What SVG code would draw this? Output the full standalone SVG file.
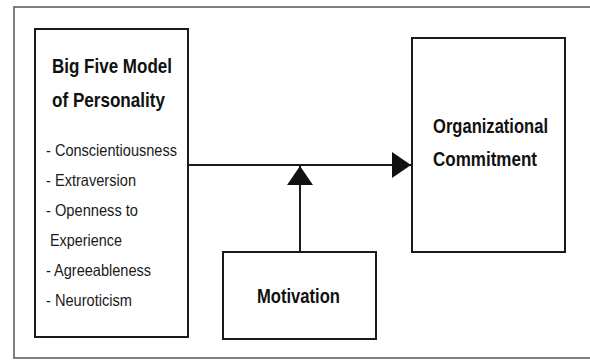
<svg xmlns="http://www.w3.org/2000/svg" width="590" height="360" viewBox="0 0 590 360">
  <style>
    .box { fill: #ffffff; stroke: #1a1a1a; stroke-width: 2; }
    .title { font-family: "Liberation Sans", Arial, sans-serif; font-weight: bold; font-size: 21px; fill: #111; }
    .item { font-family: "Liberation Sans", Arial, sans-serif; font-size: 16.5px; fill: #1a1a1a; }
    .conn { fill: none; stroke: #1a1a1a; stroke-width: 2; }
    .frame { fill: none; stroke: #555; stroke-width: 1.5; }
  </style>
  <defs>
    <marker id="arrow" markerUnits="userSpaceOnUse" markerWidth="19" markerHeight="26" refX="19" refY="13" orient="auto" viewBox="0 0 19 26">
      <path d="M0,0 L19,13 L0,26 z" fill="#111"/>
    </marker>
  </defs>
  <rect width="590" height="360" fill="#ffffff"/>
  <path class="frame" d="M590,7 H14 V358 H590"/>

  <g id="connectors">
    <line class="conn" x1="188" y1="165" x2="411" y2="165" marker-end="url(#arrow)"/>
    <line class="conn" x1="300" y1="252" x2="300" y2="166" marker-end="url(#arrow)"/>
  </g>

  <g id="big-five">
    <rect class="box" x="35" y="29" width="153" height="308"/>
    <text class="title" x="52" y="73" textLength="120" lengthAdjust="spacingAndGlyphs">Big Five Model</text>
    <text class="title" x="52" y="107" textLength="113" lengthAdjust="spacingAndGlyphs">of Personality</text>
    <text class="item" x="46" y="156" textLength="131" lengthAdjust="spacingAndGlyphs">- Conscientiousness</text>
    <text class="item" x="46" y="186" textLength="90" lengthAdjust="spacingAndGlyphs">- Extraversion</text>
    <text class="item" x="46" y="216" textLength="92" lengthAdjust="spacingAndGlyphs">- Openness to</text>
    <text class="item" x="50" y="246" textLength="72" lengthAdjust="spacingAndGlyphs">Experience</text>
    <text class="item" x="46" y="276" textLength="105" lengthAdjust="spacingAndGlyphs">- Agreeableness</text>
    <text class="item" x="46" y="306" textLength="86" lengthAdjust="spacingAndGlyphs">- Neuroticism</text>
  </g>

  <g id="org-commitment">
    <rect class="box" x="412" y="38" width="153" height="214"/>
    <text class="title" x="433" y="133" textLength="115" lengthAdjust="spacingAndGlyphs">Organizational</text>
    <text class="title" x="433" y="166" textLength="104" lengthAdjust="spacingAndGlyphs">Commitment</text>
  </g>

  <g id="motivation">
    <rect class="box" x="223" y="252" width="153" height="87"/>
    <text class="title" x="257" y="303" textLength="83" lengthAdjust="spacingAndGlyphs">Motivation</text>
  </g>
</svg>
